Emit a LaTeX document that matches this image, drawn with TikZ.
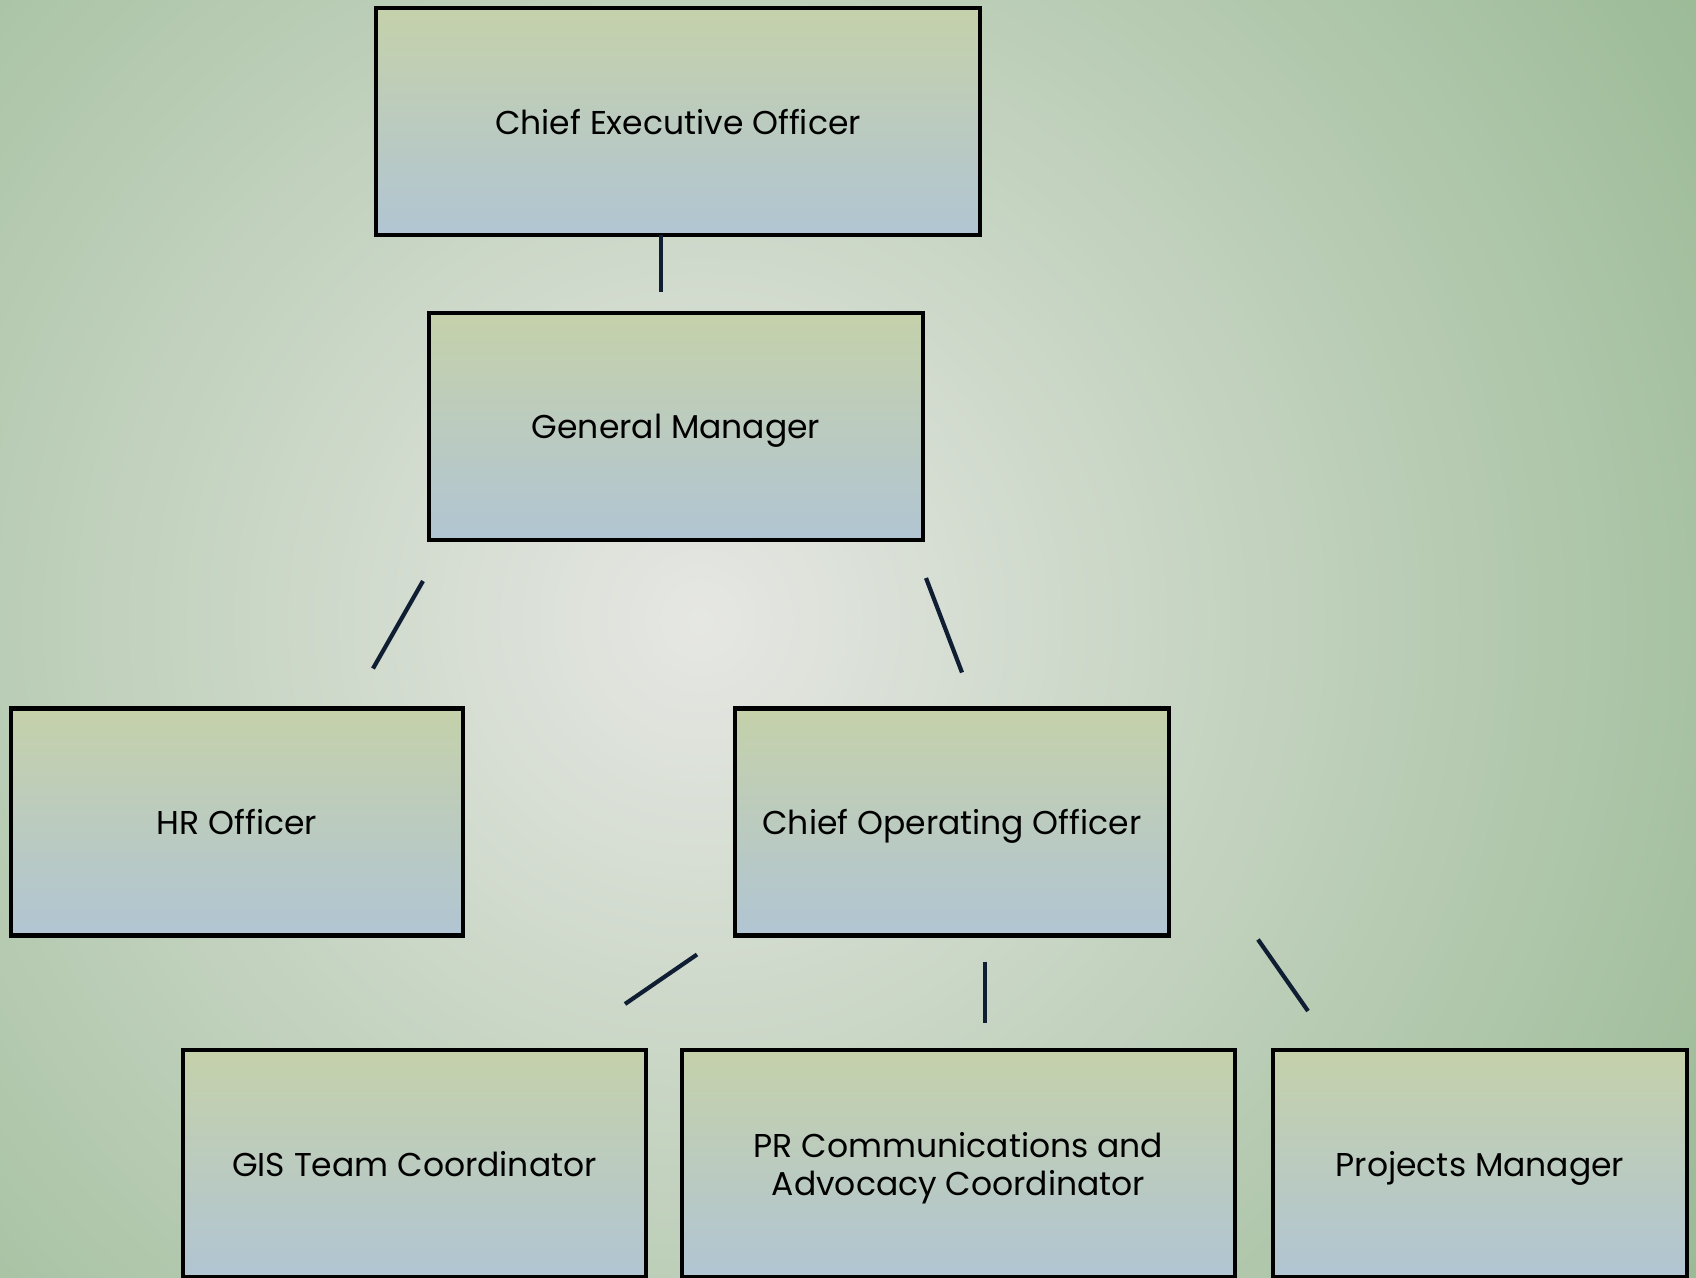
\documentclass[tikz,border=0pt]{standalone}
\usepackage{fontspec}
\setmainfont{Poppins}
\usetikzlibrary{backgrounds}
\definecolor{bginner}{HTML}{E6E7E3}
\definecolor{bgouter}{HTML}{97B892}
\definecolor{boxtop}{HTML}{C5D1AA}
\definecolor{boxbottom}{HTML}{B1C5D3}
\definecolor{linkcolor}{HTML}{0F1E33}
\tikzset{
    org box/.style={
        rectangle,
        draw=black,
        line width=4.5pt,
        top color=boxtop,
        bottom color=boxbottom,
        inner sep=0pt,
        outer sep=0pt,
        minimum height=227pt,
        text depth=0pt,
        align=center,
        font=\fontsize{33}{38}\selectfont
    },
    org link/.style={draw=linkcolor, line width=4.2pt}
}

\begin{document}
\begin{tikzpicture}[x=1pt,y=-1pt]

% page frame and radial background
\useasboundingbox (0,0) rectangle (1696,1277);
\begin{scope}
    \clip (0,0) rectangle (1696,1277);
    \shade[inner color=bginner, outer color=bgouter] (700,620) circle (1250);
\end{scope}

% the boxes
\node[org box, minimum width=604pt] (ceo) at (678,121.5) {Chief Executive Officer};
\node[org box, minimum width=494pt] (gm) at (676,426.5) {General Manager};
\node[org box, minimum width=452pt] (hr) at (237,822) {HR Officer};
\node[org box, minimum width=434pt] (coo) at (952,822) {Chief Operating Officer};
\node[org box, minimum width=463pt] (gis) at (414.5,1163.5) {GIS Team Coordinator};
\node[org box, minimum width=553pt] (pr) at (958.5,1163.5) {PR Communications and\\Advocacy Coordinator};
\node[org box, minimum width=414pt] (pm) at (1480,1163.5) {Projects Manager};

% short connectors between the levels
\draw[org link] ([shift={(-17,0)}]ceo.south) -- ([shift={(-15,-21)}]gm.north);
\draw[org link] ([shift={(-6,41)}]gm.south west) -- ([shift={(136,-40)}]hr.north);
\draw[org link] ([shift={(3,38)}]gm.south east) -- ([shift={(10,-36)}]coo.north);
\draw[org link] ([shift={(-38,19)}]coo.south west) -- ([shift={(-21,-46)}]gis.north east);
\draw[org link] ([shift={(33,26)}]coo.south) -- ([shift={(26.5,-27)}]pr.north);
\draw[org link] ([shift={(89,4)}]coo.south east) -- ([shift={(35,-39)}]pm.north west);

\end{tikzpicture}
\end{document}
